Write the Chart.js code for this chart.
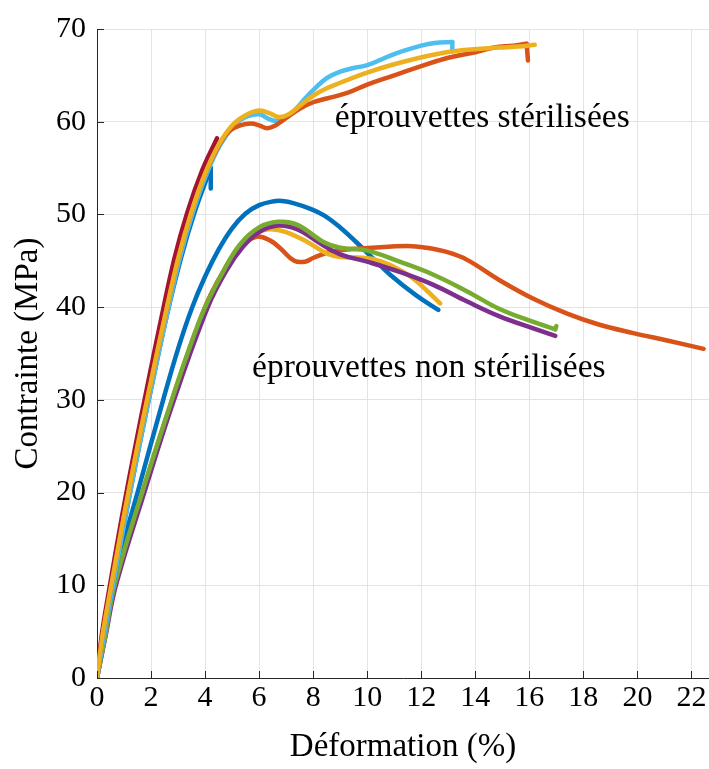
<!DOCTYPE html>
<html><head><meta charset="utf-8">
<script src="https://cdn.jsdelivr.net/npm/chart.js@4/dist/chart.umd.min.js"></script>
<style>html,body{margin:0;padding:0;background:#fff}#wrap{width:709px;height:769px}</style>
</head><body><div id="wrap"><canvas id="c" width="709" height="769"></canvas></div>
<script>
// ---- tick labels ----
const xTicks = [0,2,4,6,8,10,12,14,16,18,20,22];
const yTicks = [0,10,20,30,40,50,60,70];

// ---- sterilised specimens ----
const sBlueX = [0,0.24,0.56,1.06,1.56,2.06,2.56,3.1,3.62,4.21];
const sBlueY = [0,4.5,9.5,17.5,25,32,38.8,45.2,50.3,55.0];
const sBlueDropX = [4.21,4.21];
const sBlueDropY = [55.0,52.8];

const sRedX = [0,0.17,0.45,0.93,1.42,1.9,2.38,2.86,3.34,3.9,4.44];
const sRedY = [0,4.5,9.5,17.5,25,32,38.8,45.2,50.2,54.8,58.2];

const sLightX = [0,0.25,0.56,1.06,1.56,2.06,2.56,3.06,3.56,4.06,4.56,5.06,5.5,6.0,6.35,6.6,6.9,7.3,7.7,8.0,8.5,9.0,9.5,10.0,11.0,12.0,12.5,13.15];
const sLightY = [0,4.5,9.5,17.5,25,32,38.8,45.2,50.3,54.4,57.5,59.5,60.5,60.8,60.3,60.1,60.3,61.2,62.5,63.4,64.7,65.4,65.8,66.1,67.3,68.2,68.5,68.6];
const sLightDropX = [13.15,13.15];
const sLightDropY = [68.6,67.6];

const sOrangeX = [0,0.2,0.5,1.0,1.5,2.0,2.5,3.0,3.5,4.0,4.5,4.9,5.3,5.7,6.0,6.3,6.6,6.9,7.5,8.0,8.5,9.26,10.0,11.0,12.0,13.0,14.0,14.7,15.4,15.9];
const sOrangeY = [0,4.5,9.5,17.5,25,32,38.8,45.2,50.3,54.4,57.4,59.0,59.6,59.8,59.6,59.3,59.6,60.2,61.4,62.1,62.5,63.1,64.0,65.0,66.0,66.9,67.5,68.0,68.2,68.4];
const sOrangeDropX = [15.9,15.95];
const sOrangeDropY = [68.4,66.6];

const sYellowX = [0,0.2,0.5,1.0,1.5,2.0,2.5,3.0,3.5,4.0,4.5,5.0,5.5,6.0,6.4,6.75,7.1,7.5,8.0,8.5,9.0,10.0,11.0,12.4,13.5,14.9,15.6,16.2];
const sYellowY = [0,4.5,9.5,17.5,25,32,38.8,45.2,50.3,54.4,57.5,59.6,60.7,61.2,60.9,60.5,60.8,61.7,62.8,63.6,64.2,65.3,66.2,67.2,67.7,68.0,68.1,68.3];

// ---- non-sterilised specimens ----
const nBlueX = [0,0.25,0.55,1.5,2.45,3.0,3.5,4.0,4.5,5.0,5.5,6.0,6.5,6.85,7.3,7.9,8.4,9.0,9.6,10.2,10.85,11.8,12.63];
const nBlueY = [0,5,10,20,30,35.5,39.8,43.3,46.2,48.5,50.1,51.0,51.4,51.45,51.2,50.6,49.9,48.6,47.0,45.3,43.5,41.3,39.7];

const nOrangeX = [0,0.3,0.66,1.68,2.78,4.0,4.7,5.3,5.9,6.4,6.8,7.3,7.7,8.0,8.7,10.2,11.5,12.2,13.0,13.7,14.9,16.15,17.4,18.6,19.85,21.1,22.45];
const nOrangeY = [0,4.5,10,20,30,40,44,46.5,47.6,47.2,46.3,45.0,44.9,45.3,46.0,46.4,46.6,46.4,45.9,45.1,42.9,40.9,39.3,38.1,37.2,36.4,35.5];

const nYellowX = [0,0.3,0.67,1.7,2.8,4.05,4.75,5.35,5.9,6.4,7.0,7.8,8.5,9.0,10.2,11.5,12.2,12.7];
const nYellowY = [0,4.5,10,20,30,40,44,46.6,48.0,48.4,48.1,47.0,45.8,45.4,45.2,43.5,41.8,40.4];

const nPurpleX = [0,0.3,0.7,1.75,2.85,4.1,4.8,5.4,6.0,6.7,7.4,8.3,9.0,10.0,11.2,12.45,13.7,14.9,16.15,16.96];
const nPurpleY = [0,4.3,10,20,30,40,44,46.5,48.1,48.8,48.4,46.8,45.7,44.9,43.8,42.4,40.6,39.0,37.7,36.9];

const nGreenX = [0,0.3,0.65,1.67,2.77,3.35,4.0,4.7,5.3,6.0,6.7,7.4,8.4,9.0,10.0,11.2,12.45,13.7,14.9,16.15,16.96];
const nGreenY = [0,4.5,10,20,30,35,40,44,46.8,48.6,49.2,48.9,47.0,46.4,46.1,44.9,43.5,41.7,39.8,38.4,37.6];
const nGreenEndX = [16.96,17.0];
const nGreenEndY = [37.6,37.95];

const labelSter = 'éprouvettes stérilisées';
const labelNon = 'éprouvettes non stérilisées';
const xTitle = 'Déformation (%)';
const yTitle = 'Contrainte (MPa)';

const C = {blue:'#0072BD', orange:'#D95319', yellow:'#EDB120', purple:'#7E2F8E', green:'#77AC30', light:'#4DBEEE', red:'#A2142F'};

function pts(xs, ys){ return xs.map((x,i)=>({x:x, y:ys[i]})); }
function ds(xs, ys, color, tension){
  return {data: pts(xs,ys), borderColor: color, backgroundColor: color, borderWidth: 4.5,
    pointRadius: 0, tension: tension, borderCapStyle:'round', borderJoinStyle:'round', fill:false};
}

// first in list = drawn on top
const datasets = [
  ds(sYellowX, sYellowY, C.yellow, 0.4),
  ds(sOrangeDropX, sOrangeDropY, C.orange, 0),
  ds(sOrangeX, sOrangeY, C.orange, 0.4),
  ds(sLightDropX, sLightDropY, C.light, 0),
  ds(sLightX, sLightY, C.light, 0.4),
  ds(sRedX, sRedY, C.red, 0.4),
  ds(sBlueDropX, sBlueDropY, C.blue, 0),
  ds(sBlueX, sBlueY, C.blue, 0.4),
  ds(nGreenEndX, nGreenEndY, C.green, 0),
  ds(nGreenX, nGreenY, C.green, 0.4),
  ds(nPurpleX, nPurpleY, C.purple, 0.4),
  ds(nYellowX, nYellowY, C.yellow, 0.4),
  ds(nOrangeX, nOrangeY, C.orange, 0.4),
  ds(nBlueX, nBlueY, C.blue, 0.4)
];

const FONT = "'Liberation Serif', 'Times New Roman', serif";

const decor = {
  id: 'decor',
  afterDatasetsDraw(chart){
    const ctx = chart.ctx, xs = chart.scales.x, ys = chart.scales.y, a = chart.chartArea;
    ctx.save();
    ctx.strokeStyle = '#262626'; ctx.lineWidth = 1;
    ctx.beginPath();
    xTicks.forEach(v=>{ const p = Math.round(xs.getPixelForValue(v))+0.5; ctx.moveTo(p, a.bottom); ctx.lineTo(p, a.bottom-7); });
    yTicks.forEach(v=>{ const p = Math.round(ys.getPixelForValue(v))+0.5; ctx.moveTo(a.left, p); ctx.lineTo(a.left+7, p); });
    ctx.stroke();
    ctx.fillStyle = '#000';
    ctx.font = '33.5px ' + FONT;
    ctx.textBaseline = 'middle'; ctx.textAlign = 'left';
    ctx.fillText(labelSter, xs.getPixelForValue(8.8), ys.getPixelForValue(60.4));
    ctx.fillText(labelNon, xs.getPixelForValue(5.74), ys.getPixelForValue(33.4));
    ctx.font = '33px ' + FONT;
    ctx.textAlign = 'center';
    ctx.fillText(xTitle, (a.left + a.right)/2, 747);
    ctx.translate(28, (a.top + a.bottom)/2);
    ctx.rotate(-Math.PI/2);
    ctx.fillText(yTitle, 0, 0);
    ctx.restore();
  }
};

new Chart(document.getElementById('c'), {
  type: 'line',
  data: { datasets: datasets },
  options: {
    responsive: false, animation: false, devicePixelRatio: 1,
    layout: { padding: { top: 26, right: 0, left: 0, bottom: 0 } },
    plugins: { legend: {display:false}, tooltip: {enabled:false} },
    scales: {
      x: { type: 'linear', min: 0, max: 22.65,
        afterBuildTicks: s => { s.ticks = xTicks.map(v=>({value:v})); },
        afterFit: s => { s.height = 91; },
        grid: { color: '#e3e3e3', lineWidth: 1, drawTicks: false },
        border: { display: true, color: '#262626', width: 1 },
        ticks: { color: '#000', font: { family: FONT, size: 30 }, padding: 2, maxRotation: 0, autoSkip: false }
      },
      y: { type: 'linear', min: 0, max: 70,
        afterBuildTicks: s => { s.ticks = yTicks.map(v=>({value:v})); },
        afterFit: s => { s.width = 97; },
        grid: { color: '#e3e3e3', lineWidth: 1, drawTicks: false },
        border: { display: true, color: '#262626', width: 1 },
        ticks: { color: '#000', font: { family: FONT, size: 30 }, padding: 11, autoSkip: false }
      }
    }
  },
  plugins: [decor]
});
</script></body></html>
